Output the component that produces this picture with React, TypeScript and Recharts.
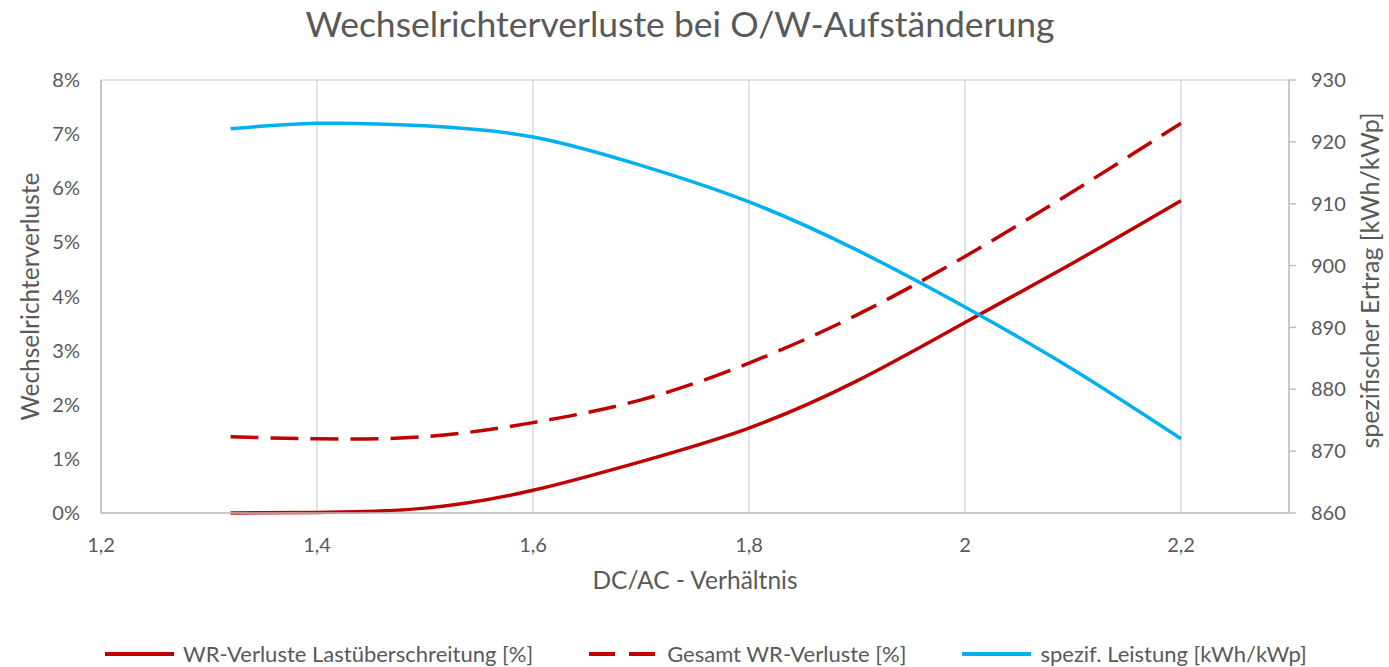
import { CartesianGrid, Label, Line, LineChart, XAxis, YAxis } from "recharts";

const FONT = "Lato, 'Open Sans', sans-serif";
const GREY = "#595959";

// DC/AC ratio
const ratios = [1.32, 1.4, 1.5, 1.6, 1.7, 1.8, 1.9, 2.0, 2.1, 2.2];
// WR-Verluste Lastüberschreitung [%]
const lossOverload = [0, 0.01, 0.09, 0.42, 0.95, 1.57, 2.44, 3.52, 4.62, 5.77];
// Gesamt WR-Verluste [%]
const lossTotal = [1.41, 1.37, 1.41, 1.67, 2.09, 2.77, 3.66, 4.74, 5.94, 7.2];
// spezif. Leistung [kWh/kWp]
const specYield = [922.1, 923.0, 922.6, 920.8, 916.2, 910.3, 902.5, 893.3, 883.2, 872.0];

const xTicks = [1.2, 1.4, 1.6, 1.8, 2.0, 2.2];
const leftTicks = [0, 1, 2, 3, 4, 5, 6, 7, 8];
const rightTicks = [860, 870, 880, 890, 900, 910, 920, 930];

const data = ratios.map((r, i) => ({
    ratio: r,
    overload: lossOverload[i],
    total: lossTotal[i],
    spec: specYield[i],
}));

const legendItems = [
    { name: "WR-Verluste Lastüberschreitung [%]", color: "#C00000", dash: false },
    { name: "Gesamt WR-Verluste [%]", color: "#C00000", dash: true },
    { name: "spezif. Leistung [kWh/kWp]", color: "#00B0F0", dash: false },
];

const tickStyle = { fontSize: 20, fill: GREY, fontFamily: FONT };

const App = () => {
    return (
        <div
            style={{
                position: "absolute",
                left: 0,
                top: 0,
                width: 1389,
                height: 667,
                background: "#fff",
                fontFamily: FONT,
            }}
        >
            <div
                style={{
                    position: "absolute",
                    top: 2,
                    left: 0,
                    width: 1360,
                    textAlign: "center",
                    fontSize: 35.5,
                    color: GREY,
                }}
            >
                Wechselrichterverluste bei O/W-Aufständerung
            </div>

            <LineChart
                width={1389}
                height={667}
                data={data}
                margin={{ top: 80, right: 0, bottom: 0, left: 0 }}
            >
                <CartesianGrid stroke="#D9D9D9" strokeWidth={1.5} />
                <XAxis
                    dataKey="ratio"
                    type="number"
                    domain={[1.2, 2.3]}
                    ticks={xTicks}
                    height={154}
                    tickLine={false}
                    tickSize={0}
                    tickMargin={25}
                    stroke="#BFBFBF"
                    strokeWidth={1.5}
                    tick={tickStyle}
                    tickFormatter={(v: number) => String(Number(v.toFixed(1))).replace(".", ",")}
                >
                    <Label
                        value="DC/AC - Verhältnis"
                        position="insideTop"
                        offset={59}
                        fill={GREY}
                        fontSize={24.5}
                        fontFamily={FONT}
                    />
                </XAxis>
                <YAxis
                    yAxisId="left"
                    domain={[0, 8]}
                    ticks={leftTicks}
                    width={101}
                    tickLine={false}
                    tickSize={0}
                    tickMargin={21}
                    stroke="#BFBFBF"
                    strokeWidth={1.5}
                    tick={tickStyle}
                    tickFormatter={(v: number) => `${v}%`}
                >
                    <Label
                        value="Wechselrichterverluste"
                        position="insideLeft"
                        angle={-90}
                        offset={30}
                        fill={GREY}
                        fontSize={24.5}
                        fontFamily={FONT}
                        style={{ textAnchor: "middle" }}
                    />
                </YAxis>
                <YAxis
                    yAxisId="right"
                    orientation="right"
                    domain={[860, 930]}
                    ticks={rightTicks}
                    width={100}
                    tickSize={7}
                    tickMargin={15}
                    stroke="#BFBFBF"
                    strokeWidth={1.5}
                    tick={{ ...tickStyle, textAnchor: "start" }}
                >
                    <Label
                        value="spezifischer Ertrag [kWh/kWp]"
                        position="insideRight"
                        angle={-90}
                        offset={19}
                        dy={-16}
                        fill={GREY}
                        fontSize={25}
                        fontFamily={FONT}
                        style={{ textAnchor: "middle" }}
                    />
                </YAxis>
                <Line
                    yAxisId="left"
                    type="natural"
                    dataKey="overload"
                    stroke="#C00000"
                    strokeWidth={3.5}
                    dot={false}
                    isAnimationActive={false}
                />
                <Line
                    yAxisId="left"
                    type="natural"
                    dataKey="total"
                    stroke="#C00000"
                    strokeWidth={3.5}
                    strokeDasharray="28 12"
                    dot={false}
                    isAnimationActive={false}
                />
                <Line
                    yAxisId="right"
                    type="natural"
                    dataKey="spec"
                    stroke="#00B0F0"
                    strokeWidth={3.5}
                    dot={false}
                    isAnimationActive={false}
                />
            </LineChart>

            <div
                style={{
                    position: "absolute",
                    top: 640,
                    left: 105,
                    display: "flex",
                    gap: 56,
                    fontSize: 22,
                    color: GREY,
                    whiteSpace: "nowrap",
                }}
            >
                {legendItems.map((item) => (
                    <div key={item.name} style={{ display: "flex", alignItems: "center", gap: 9 }}>
                        <svg width={69} height={6}>
                            <line
                                x1={0}
                                y1={3}
                                x2={69}
                                y2={3}
                                stroke={item.color}
                                strokeWidth={4}
                                strokeDasharray={item.dash ? "26 14" : undefined}
                            />
                        </svg>
                        <span>{item.name}</span>
                    </div>
                ))}
            </div>
        </div>
    );
};

export default App;
